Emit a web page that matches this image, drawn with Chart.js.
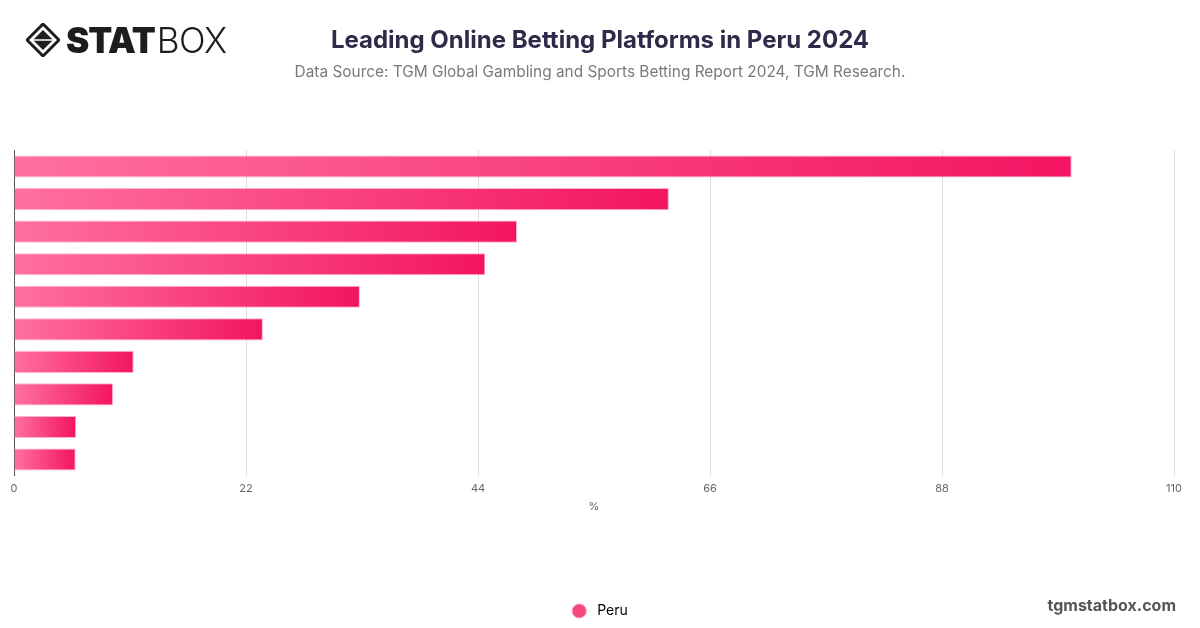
<!DOCTYPE html>
<html>
<head>
<meta charset="utf-8">
<script src="https://cdn.jsdelivr.net/npm/chart.js@4.4.1/dist/chart.umd.min.js"></script>
<style>
  html, body { margin: 0; padding: 0; background: #fff; }
  #wrap { position: relative; width: 1200px; height: 628px; }
  #logo { position: absolute; left: 26px; top: 22px; display: flex; align-items: center; height: 36px; }
  #logo .word { font-family: Inter, sans-serif; font-size: 35px; line-height: 36px; color: #1d1d1f; margin-left: 6px; }
  #logo .heavy { font-weight: 900; letter-spacing: -1px; }
  #logo .light { font-weight: 300; letter-spacing: -0.5px; margin-left: 2px; }
  #site { position: absolute; right: 24px; top: 595px; font-family: Inter, sans-serif; font-weight: 700; font-size: 16px; color: #555; }
</style>
</head>
<body>
<div id="wrap">
  <canvas id="chart" width="1200" height="628"></canvas>
  <div id="logo">
    <svg width="34" height="34" viewBox="0 0 34 34">
      <path d="M17 1 L33 17 L17 33 L1 17 Z" fill="none" stroke="#1d1d1f" stroke-width="3"/>
      <path d="M17 7 L27 17 L17 27 L7 17 Z" fill="#1d1d1f"/>
      <path d="M7 17 L27 17" stroke="#fff" stroke-width="1.5"/>
    </svg>
    <span class="word"><span class="heavy">STAT</span><span class="light">BOX</span></span>
  </div>
  <div id="site">tgmstatbox.com</div>
</div>
<script>
const platforms = ['Platform 1', 'Platform 2', 'Platform 3', 'Platform 4', 'Platform 5',
                   'Platform 6', 'Platform 7', 'Platform 8', 'Platform 9', 'Platform 10'];
const peruShare = [100.3, 62.1, 47.7, 44.7, 32.8, 23.6, 11.35, 9.4, 5.9, 5.85];
const xTicks = [0, 22, 44, 66, 88, 110];

const barGradient = (ctx) => {
  const chart = ctx.chart;
  if (!chart.chartArea || ctx.raw === undefined) return '#f7477f';
  const x = chart.scales.x;
  const x0 = x.getPixelForValue(0);
  const x1 = x.getPixelForValue(ctx.raw);
  const g = chart.ctx.createLinearGradient(x0, 0, Math.max(x1, x0 + 1), 0);
  g.addColorStop(0, '#ff70a0');
  g.addColorStop(1, '#f31462');
  return g;
};

new Chart(document.getElementById('chart'), {
  type: 'bar',
  data: {
    labels: platforms,
    datasets: [{
      label: 'Peru',
      data: peruShare,
      backgroundColor: barGradient,
      borderColor: '#ffb3ca',
      borderWidth: 1,
      borderSkipped: 'left',
      categoryPercentage: 0.8,
      barPercentage: 0.85
    }]
  },
  options: {
    indexAxis: 'y',
    responsive: false,
    animation: false,
    layout: { padding: { left: 6, right: 6, top: 0, bottom: 0 } },
    plugins: {
      title: {
        display: true,
        text: 'Leading Online Betting Platforms in Peru 2024',
        color: '#2e2b4a',
        font: { family: 'Inter', size: 24, weight: '700' },
        padding: { top: 26, bottom: 8 }
      },
      subtitle: {
        display: true,
        text: 'Data Source: TGM Global Gambling and Sports Betting Report 2024, TGM Research.',
        color: '#7a7a7a',
        font: { family: 'Inter', size: 15.4, weight: '400' },
        padding: { top: 0, bottom: 69 }
      },
      legend: {
        position: 'bottom',
        labels: {
          usePointStyle: true,
          pointStyle: 'circle',
          boxWidth: 14,
          boxHeight: 10,
          padding: 10,
          color: '#555',
          font: { family: 'Inter', size: 14 },
          generateLabels: () => [{
            text: ' Peru', fillStyle: '#f7477f', strokeStyle: '#ff9dbb',
            lineWidth: 1, pointStyle: 'circle', hidden: false, datasetIndex: 0
          }]
        }
      },
      tooltip: { enabled: false }
    },
    scales: {
      x: {
        min: 0,
        max: 110,
        afterBuildTicks: (axis) => { axis.ticks = xTicks.map(v => ({ value: v })); },
        grid: { color: '#dddddd', drawTicks: false },
        border: { display: false },
        ticks: { color: '#666', padding: 6, font: { family: 'Inter', size: 11 } },
        title: {
          display: true, text: '%', color: '#666',
          font: { family: 'Inter', size: 11, lineHeight: 1 },
          padding: { top: 0, bottom: 82 }
        }
      },
      y: {
        grid: { display: false },
        border: { display: true, color: '#555', width: 1 },
        ticks: { display: false }
      },
      // empty axis on the right, keeps the plot narrower than the titles' span
      yRight: {
        type: 'linear',
        position: 'right',
        grid: { display: false },
        border: { display: false },
        ticks: { display: false },
        afterFit: (scale) => { scale.width = 20; }
      }
    }
  }
});
</script>
</body>
</html>
